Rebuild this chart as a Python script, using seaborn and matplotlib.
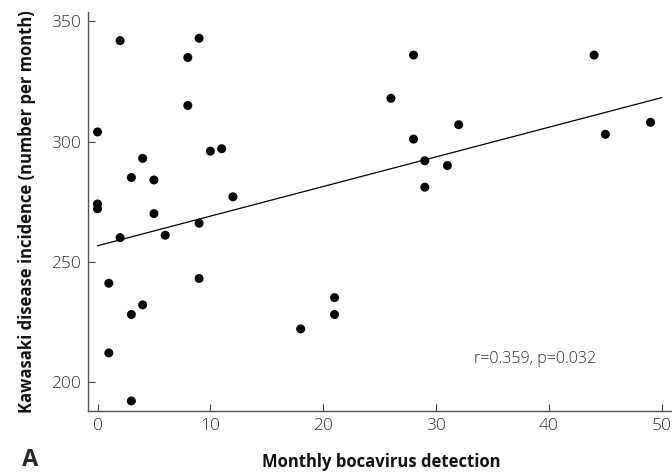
import numpy as np
import pandas as pd
import matplotlib
matplotlib.use('Agg')
import matplotlib.pyplot as plt
import seaborn as sns

# 月度博卡病毒检出数 vs 川崎病发病数
bocavirus = [0, 0, 0, 1, 1, 2, 2, 3, 3, 3, 4, 4, 5, 5, 6, 8, 8, 9, 9, 9,
             10, 11, 12, 18, 21, 21, 26, 28, 28, 29, 29, 31, 32, 44, 45, 49]
kawasaki = [304, 274, 272, 241, 212, 342, 260, 285, 228, 192, 293, 232, 284, 270, 261, 335, 315, 343, 266, 243,
            296, 297, 277, 222, 235, 228, 318, 336, 301, 292, 281, 290, 307, 336, 303, 308]
# 图中回归线
line_x = [0, 50]
line_intercept = 256.6
line_slope = 1.234
x_ticks = [0, 10, 20, 30, 40, 50]
y_ticks = [200, 250, 300, 350]
stat_text = 'r=0.359, p=0.032'

df = pd.DataFrame({'bocavirus': bocavirus, 'kawasaki': kawasaki})

sns.set_style('ticks')
plt.rcParams['font.family'] = ['Open Sans', 'DejaVu Sans']

fig = plt.figure(figsize=(6.72, 4.73), dpi=100)
ax = fig.add_axes([0.131, 0.131, 0.869, 0.844])

sns.scatterplot(data=df, x='bocavirus', y='kawasaki', ax=ax,
                color='black', s=42, edgecolor='none', zorder=3)

lx = np.array(line_x)
sns.lineplot(x=lx, y=line_intercept + line_slope * lx, ax=ax, color='black', linewidth=0.9)

ax.set_xlim(-0.84, 50.9)
ax.set_ylim(187.8, 354)
ax.set_xticks(x_ticks)
ax.set_yticks(y_ticks)
ax.tick_params(direction='in', length=5, width=0.8, color='#444444',
               labelsize=12.5, labelcolor='#2e2e2e', pad=5)
for lab in ax.get_xticklabels() + ax.get_yticklabels():
    lab.set_fontweight('light')
for side in ['top', 'right']:
    ax.spines[side].set_visible(False)
for side in ['left', 'bottom']:
    ax.spines[side].set_color('#555555')
    ax.spines[side].set_linewidth(1.0)

ax.set_xlabel('Monthly bocavirus detection', fontsize=12, fontweight='bold', color='#111111')
ax.set_ylabel('Kawasaki disease incidence (number per month)', fontsize=12, fontweight='bold', color='#111111')
ax.xaxis.set_label_coords(0.502, -0.105)
ax.yaxis.set_label_coords(-0.089, 0.5)

ax.text(33.4, 209.5, stat_text, fontsize=11.5, fontweight='light', color='#2e2e2e', va='center', ha='left')
fig.text(22 / 672, 1 - 460 / 473, 'A', fontsize=17, fontweight='bold', va='center', ha='left')

fig.savefig('out.png', dpi=100)
